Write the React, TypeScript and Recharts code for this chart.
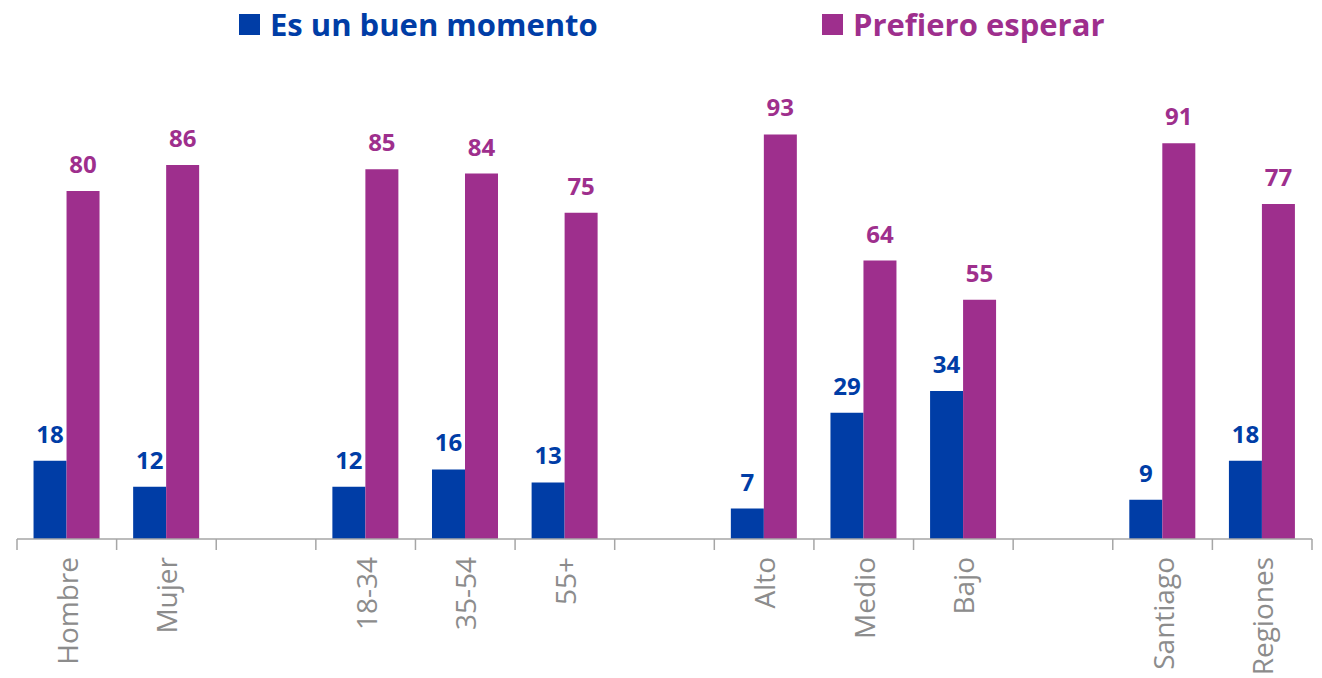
import React from "react";
import { BarChart, Bar, XAxis, YAxis, LabelList } from "recharts";

const categories = ["Hombre", "Mujer", " ", "18-34", "35-54", "55+", "  ", "Alto", "Medio", "Bajo", "   ", "Santiago", "Regiones"];
const buenMomento = [18, 12, null, 12, 16, 13, null, 7, 29, 34, null, 9, 18];
const prefieroEsperar = [80, 86, null, 85, 84, 75, null, 93, 64, 55, null, 91, 77];

const BLUE = "#003da6";
const PURPLE = "#9e2f8d";
const GRAY = "#8c8c8c";

const data = categories.map((name, i) => ({
  name,
  buen: buenMomento[i],
  esperar: prefieroEsperar[i],
}));

const CategoryTick = (props: any) => {
  const { x, y, payload, index, visibleTicksCount } = props;
  const half = payload.offset ?? 49.8;
  const last = index === (visibleTicksCount ?? categories.length) - 1;
  return (
    <g>
      <line x1={x - half} y1={y} x2={x - half} y2={y + 11} stroke="#a6a6a6" strokeWidth={1.5} />
      {last && <line x1={x + half} y1={y} x2={x + half} y2={y + 11} stroke="#a6a6a6" strokeWidth={1.5} />}
      <text
        x={x}
        y={y + 18}
        transform={`rotate(-90 ${x} ${y + 18})`}
        textAnchor="end"
        dominantBaseline="central"
        fill={GRAY}
        fontSize={28}
        fontFamily="'Open Sans', sans-serif"
      >
        {payload.value.trim()}
      </text>
    </g>
  );
};

const LegendItem = ({ color, label }: { color: string; label: string }) => (
  <div style={{ display: "flex", alignItems: "center" }}>
    <span style={{ width: 21, height: 21, background: color, marginRight: 10 }} />
    <span style={{ color, fontSize: 31, fontWeight: 700, fontFamily: "'Open Sans', sans-serif", lineHeight: "44px" }}>{label}</span>
  </div>
);

export default function App() {
  return (
    <div style={{ position: "absolute", left: 0, top: 0, width: 1322, height: 678, background: "#fff" }}>
      <div style={{ position: "absolute", top: 2, left: 239 }}>
        <LegendItem color={BLUE} label="Es un buen momento" />
      </div>
      <div style={{ position: "absolute", top: 2, left: 822 }}>
        <LegendItem color={PURPLE} label="Prefiero esperar" />
      </div>
      <BarChart
        width={1322}
        height={678}
        data={data}
        margin={{ top: 104, right: 10, left: 17, bottom: 9 }}
        barCategoryGap="16.6%"
        barGap={0}
      >
        <XAxis
          dataKey="name"
          interval={0}
          height={130}
          tickSize={0}
          tickMargin={0}
          tickLine={false}
          axisLine={{ stroke: "#a6a6a6", strokeWidth: 1.5 }}
          tick={<CategoryTick />}
        />
        <YAxis hide domain={[0, 100]} />
        <Bar dataKey="buen" fill={BLUE} isAnimationActive={false}>
          <LabelList
            dataKey="buen"
            position="top"
            offset={18}
            fill={BLUE}
            fontSize={24}
            fontWeight={700}
            fontFamily="'Open Sans', sans-serif"
          />
        </Bar>
        <Bar dataKey="esperar" fill={PURPLE} isAnimationActive={false}>
          <LabelList
            dataKey="esperar"
            position="top"
            offset={18}
            fill={PURPLE}
            fontSize={24}
            fontWeight={700}
            fontFamily="'Open Sans', sans-serif"
          />
        </Bar>
      </BarChart>
    </div>
  );
}
